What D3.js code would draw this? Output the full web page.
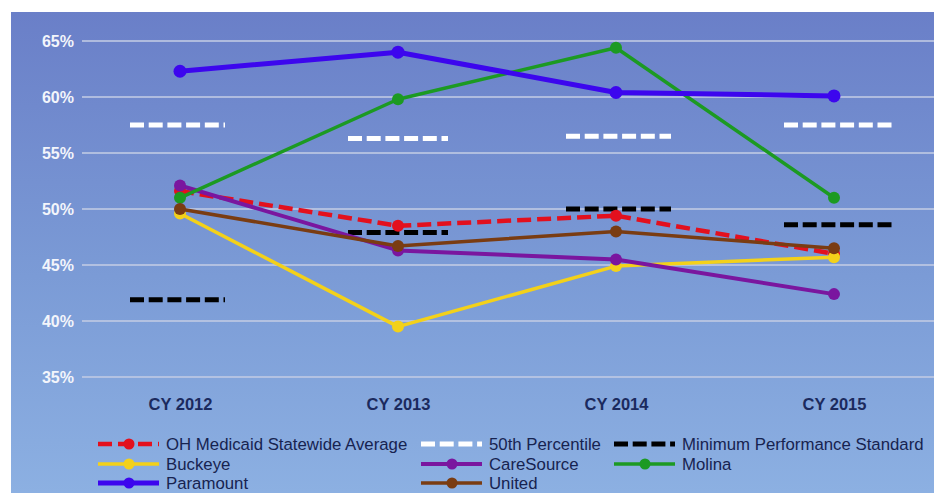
<!DOCTYPE html>
<html><head><meta charset="utf-8">
<script src="https://cdn.jsdelivr.net/npm/d3@7"></script>
<style>body{margin:0;background:#fff}svg{display:block}text{font-family:"Liberation Sans",Arial,sans-serif}</style>
</head><body><svg id="c" width="934" height="493"></svg>
<script>
const categories = ["CY 2012","CY 2013","CY 2014","CY 2015"];
const yTicks = [35,40,45,50,55,60,65];
const ohAverage = [51.6, 48.5, 49.4, 46.0];
const percentile50 = [57.5, 56.3, 56.5, 57.5];
const minStandard = [41.9, 47.9, 50.0, 48.6];
const buckeye = [49.6, 39.5, 44.9, 45.7];
const careSource = [52.1, 46.3, 45.5, 42.4];
const molina = [51.0, 59.8, 64.4, 51.0];
const paramount = [62.3, 64.0, 60.4, 60.1];
const united = [50.0, 46.7, 48.0, 46.5];

const svg = d3.select("#c");
const W = 934, H = 493;
const defs = svg.append("defs");
const g = defs.append("linearGradient").attr("id","bg").attr("x1",0).attr("y1",0).attr("x2",0).attr("y2",1);
g.append("stop").attr("offset","0%").attr("stop-color","#6a7fc8");
g.append("stop").attr("offset","55%").attr("stop-color","#7b9bd6");
g.append("stop").attr("offset","100%").attr("stop-color","#8cb0e2");
svg.append("rect").attr("x",11).attr("y",12).attr("width",W-11).attr("height",H-12).attr("fill","url(#bg)");

const x = d3.scalePoint().domain(categories).range([71,943]).padding(0.5);
const y = d3.scaleLinear().domain([35,65]).range([377,41]);

// gridlines
svg.append("g").selectAll("line").data(yTicks).join("line")
  .attr("x1",82).attr("x2",W).attr("y1",d=>y(d)).attr("y2",d=>y(d))
  .attr("stroke","#c0cae4").attr("stroke-width",2).attr("opacity",0.8);

// y axis labels
const yAxis = d3.axisLeft(y).tickValues(yTicks).tickFormat(d=>d+"%").tickSize(0).tickPadding(0);
const ya = svg.append("g").attr("transform","translate(74,0)").call(yAxis);
ya.select(".domain").remove();
ya.selectAll("text").attr("fill","#f3f5fb").attr("font-size",16).attr("font-weight","bold")
  .attr("font-family","'Liberation Sans',Arial,sans-serif").attr("dy","0.35em");

// x axis labels
const xAxis = d3.axisBottom(x).tickSize(0).tickPadding(0);
const xa = svg.append("g").attr("transform","translate(0,398)").call(xAxis);
xa.select(".domain").remove();
xa.selectAll("text").attr("fill","#1b2a5e").attr("font-size",16.5).attr("font-weight","bold")
  .attr("font-family","'Liberation Sans',Arial,sans-serif").attr("dy","0.71em");

// benchmark dashes
const dashArr = "14,4.7";
function bench(vals, color){
  svg.append("g").selectAll("line").data(vals).join("line")
    .attr("x1",(d,i)=>x(categories[i])-50)
    .attr("x2",(d,i)=>x(categories[i])+45+i*5)
    .attr("y1",d=>y(d)).attr("y2",d=>y(d))
    .attr("stroke",color).attr("stroke-width",5).attr("stroke-dasharray",dashArr);
}
bench(percentile50,"#ffffff");
bench(minStandard,"#000000");

const series = [
  {name:"OH Medicaid Statewide Average", vals:ohAverage, color:"#e3101e", w:4.5, dash:"14,6", r:6},
  {name:"Buckeye", vals:buckeye, color:"#f3d11a", w:3.5, r:6},
  {name:"CareSource", vals:careSource, color:"#7a169f", w:4, r:6},
  {name:"Molina", vals:molina, color:"#1c9a22", w:3.5, r:6},
  {name:"Paramount", vals:paramount, color:"#3c06ee", w:5, r:6.5},
  {name:"United", vals:united, color:"#7a3c12", w:3.5, r:6}
];
const line = d3.line().x((d,i)=>x(categories[i])).y(d=>y(d));
series.forEach(s=>{
  const gg = svg.append("g");
  gg.append("path").attr("d",line(s.vals)).attr("fill","none").attr("stroke",s.color)
    .attr("stroke-width",s.w).attr("stroke-dasharray",s.dash||null).attr("stroke-linejoin","round");
  gg.selectAll("circle").data(s.vals).join("circle")
    .attr("cx",(d,i)=>x(categories[i])).attr("cy",d=>y(d)).attr("r",s.r).attr("fill",s.color);
});

// legend
const legendItems = [
  {name:"OH Medicaid Statewide Average", color:"#e3101e", w:4.5, dash:"14,6", marker:true},
  {name:"50th Percentile", color:"#ffffff", w:5, dash:dashArr, marker:false},
  {name:"Minimum Performance Standard", color:"#000000", w:5, dash:dashArr, marker:false},
  {name:"Buckeye", color:"#f3d11a", w:3.5, marker:true},
  {name:"CareSource", color:"#7a169f", w:4, marker:true},
  {name:"Molina", color:"#1c9a22", w:3.5, marker:true},
  {name:"Paramount", color:"#3c06ee", w:5, marker:true},
  {name:"United", color:"#7a3c12", w:3.5, marker:true}
];
const colX = [98, 421, 614];
const rowY = [444, 464, 483];
legendItems.forEach((it,i)=>{
  const cx = colX[i%3], cy = rowY[Math.floor(i/3)];
  const lg = svg.append("g").attr("transform",`translate(${cx},${cy})`);
  lg.append("line").attr("x1",0).attr("x2",61).attr("y1",0).attr("y2",0)
    .attr("stroke",it.color).attr("stroke-width",it.w).attr("stroke-dasharray",it.dash||null);
  if(it.marker) lg.append("circle").attr("cx",31).attr("cy",0).attr("r",5.5).attr("fill",it.color);
  lg.append("text").attr("x",68).attr("y",0).attr("dy","0.36em").attr("font-size",16.8)
    .attr("fill","#172350").text(it.name);
});
</script></body></html>
